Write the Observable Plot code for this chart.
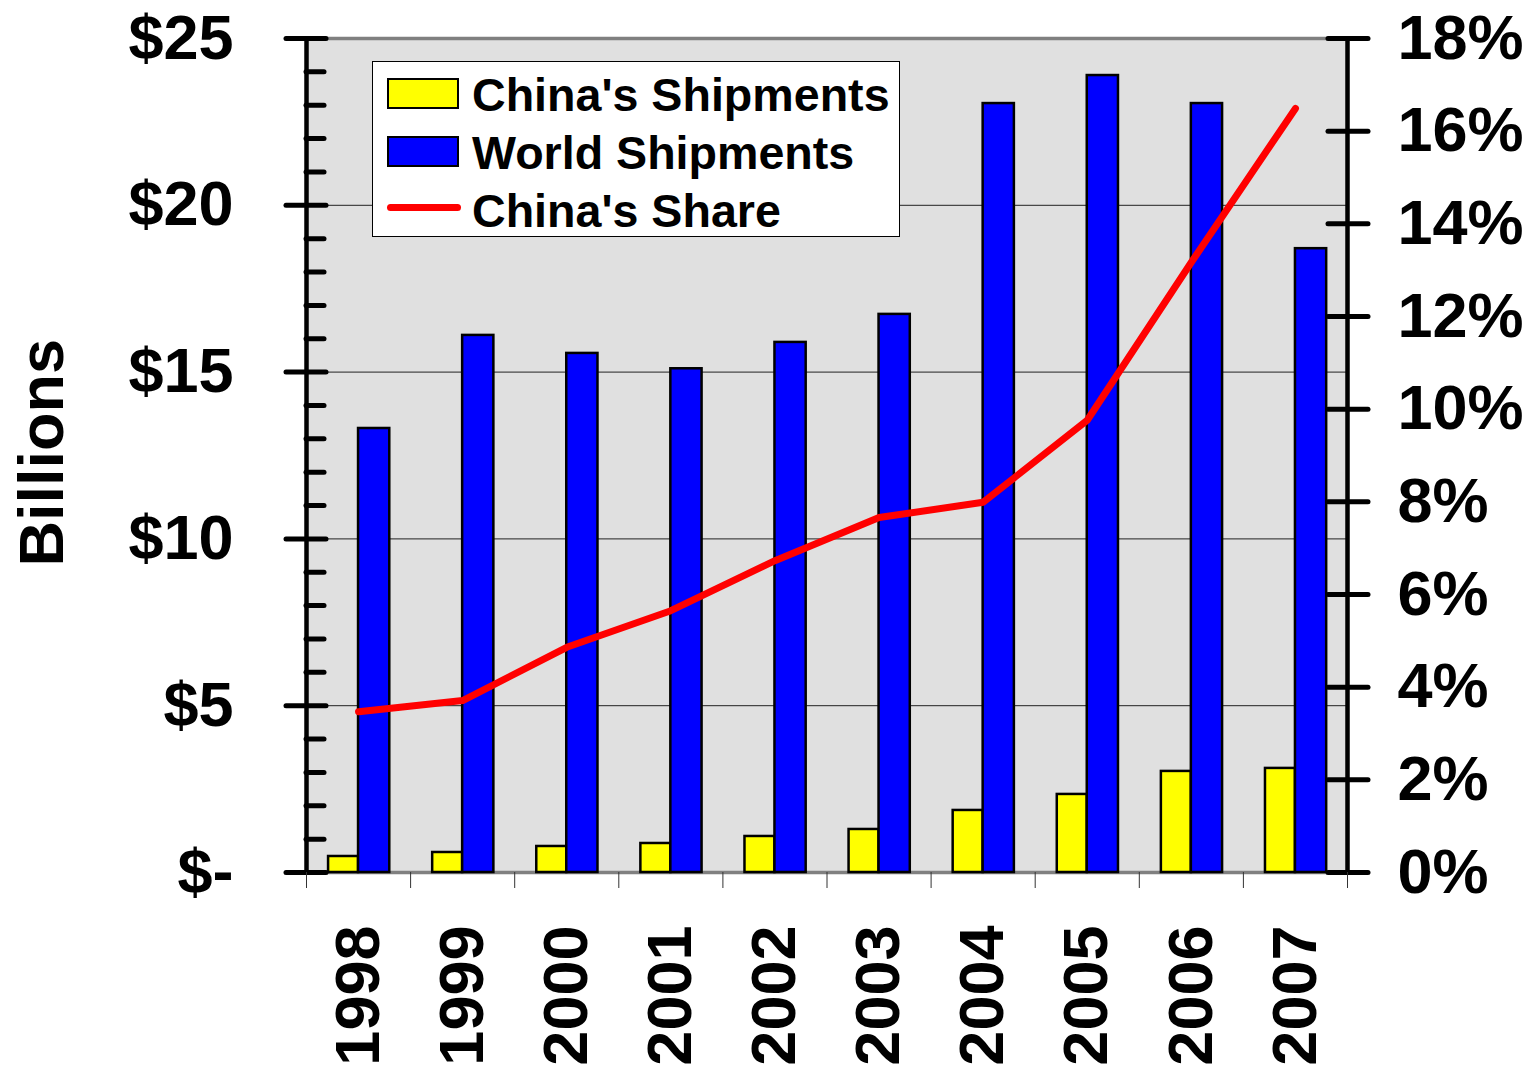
<!DOCTYPE html>
<html>
<head>
<meta charset="utf-8">
<script src="https://cdn.jsdelivr.net/npm/d3@7"></script>
<script src="https://cdn.jsdelivr.net/npm/@observablehq/plot@0.6"></script>
<style>
  html, body { margin: 0; padding: 0; background: #fff; }
  #wrap { position: relative; width: 1531px; height: 1065px; font-family: "Liberation Sans", Arial, sans-serif; }
  #legend { position: absolute; left: 372px; top: 61px; width: 526px; height: 174px; background: #fff; border: 1px solid #000; }
  .item { position: absolute; left: 0; height: 58px; width: 526px; }
  .sw { position: absolute; left: 14px; width: 68px; height: 27px; border: 2.5px solid #000; }
  .ln { position: absolute; left: 14px; width: 74px; height: 7px; border-radius: 4px; background: #ff0000; }
  .lbl { position: absolute; left: 99px; font-size: 46.6px; font-weight: bold; color: #000; line-height: 1; white-space: nowrap; }
</style>
</head>
<body>
<div id="wrap">
  <div id="chart"></div>
  <div id="legend"></div>
</div>
<script>
const years = ["1998","1999","2000","2001","2002","2003","2004","2005","2006","2007"];
const chinaShipments = [0.48, 0.60, 0.78, 0.87, 1.08, 1.29, 1.86, 2.34, 3.03, 3.12];
const worldShipments = [13.31, 16.10, 15.56, 15.10, 15.89, 16.73, 23.05, 23.89, 23.05, 18.70];
const chinaShare = [3.47, 3.71, 4.86, 5.65, 6.73, 7.66, 7.99, 9.76, 13.17, 16.49];
const leftTicks = [0, 5, 10, 15, 20, 25];
const minorTicks = [1,2,3,4,6,7,8,9,11,12,13,14,16,17,18,19,21,22,23,24];
const rightTicks = [0, 2, 4, 6, 8, 10, 12, 14, 16, 18];
const seriesNames = ["China's Shipments", "World Shipments", "China's Share"];
const seriesColors = ["#ffff00", "#0000ff", "#ff0000"];

const yMax = 25, shareMax = 18;
const toY = s => s * yMax / shareMax;

const rows = years.map((y, i) => ({year: y, china: chinaShipments[i], world: worldShipments[i], share: chinaShare[i]}));

const W = 1531, H = 1065;
const mL = 306, mR = 184, mT = 38, mB = 193;
const bw = (W - mL - mR) / years.length;
const fontBold = {fontSize: 63, fontWeight: "bold", fill: "#000"};

const chart = Plot.plot({
  width: W, height: H,
  marginLeft: mL, marginRight: mR, marginTop: mT, marginBottom: mB,
  style: {fontFamily: "'Liberation Sans', Arial, sans-serif", background: "#fff", overflow: "visible"},
  x: {domain: years, type: "band", padding: 0, round: false, axis: null, label: null},
  y: {domain: [0, yMax], axis: null, label: null},
  marks: [
    Plot.frame({fill: "#e0e0e0", stroke: null}),
    Plot.gridY(leftTicks.slice(1, -1), {stroke: "#222", strokeOpacity: 1, strokeWidth: 1}),
    Plot.ruleY([0, yMax], {stroke: "#808080", strokeWidth: 3.5}),
    Plot.barY(rows, {x: "year", y: "china", fill: seriesColors[0], stroke: "#000", strokeWidth: 2.5,
      insetLeft: bw * 0.212, insetRight: bw - bw * 0.5}),
    Plot.barY(rows, {x: "year", y: "world", fill: seriesColors[1], stroke: "#000", strokeWidth: 2.5,
      insetLeft: bw * 0.5, insetRight: bw * 0.2}),
    Plot.line(rows, {x: "year", y: d => toY(d.share), stroke: seriesColors[2], strokeWidth: 7,
      strokeLinecap: "round", strokeLinejoin: "round"}),
    Plot.frame({anchor: "left", stroke: "#000", strokeWidth: 4.5}),
    Plot.frame({anchor: "right", stroke: "#000", strokeWidth: 4.5}),
    Plot.axisY(leftTicks, {anchor: "left", tickSize: 40, dx: 20, text: null, label: null, stroke: "#000", strokeWidth: 5, strokeLinecap: "round"}),
    Plot.axisY(minorTicks, {anchor: "left", tickSize: 18, dx: 18, text: null, label: null, stroke: "#000", strokeWidth: 5, strokeLinecap: "round"}),
    Plot.axisY(leftTicks, {anchor: "left", tickSize: 0, tickPadding: 73, label: null,
      tickFormat: d => d === 0 ? "$-" : "$" + d, ...fontBold}),
    Plot.axisY(rightTicks.map(toY), {anchor: "right", tickSize: 40, dx: -20, text: null, label: null, stroke: "#000", strokeWidth: 5, strokeLinecap: "round"}),
    Plot.axisY(rightTicks.map(toY), {anchor: "right", tickSize: 0, tickPadding: 50, label: null,
      tickFormat: d => Math.round(d * shareMax / yMax) + "%", ...fontBold}),
    Plot.axisX(years, {anchor: "bottom", tickSize: 16, dx: -bw / 2, text: null, label: null, stroke: "#333", strokeWidth: 1}),
    Plot.axisX([years[years.length - 1]], {anchor: "bottom", tickSize: 16, dx: bw / 2, text: null, label: null, stroke: "#333", strokeWidth: 1}),
    Plot.axisX(years, {anchor: "bottom", tickSize: 0, tickPadding: 53, tickRotate: -90, label: null, ...fontBold}),
    Plot.text(["Billions"], {frameAnchor: "left", rotate: -90, dx: -264, dy: 111, ...fontBold})
  ]
});
document.getElementById("chart").appendChild(chart);

const legend = document.getElementById("legend");
seriesNames.forEach((name, i) => {
  const item = document.createElement("div");
  item.className = "item";
  item.style.top = (i * 58) + "px";
  const sw = document.createElement("div");
  if (i < 2) {
    sw.className = "sw";
    sw.style.top = "16px";
    sw.style.background = seriesColors[i];
  } else {
    sw.className = "ln";
    sw.style.top = "26px";
  }
  const lbl = document.createElement("div");
  lbl.className = "lbl";
  lbl.style.top = "10px";
  lbl.textContent = name;
  item.appendChild(sw);
  item.appendChild(lbl);
  legend.appendChild(item);
});
</script>
</body>
</html>
